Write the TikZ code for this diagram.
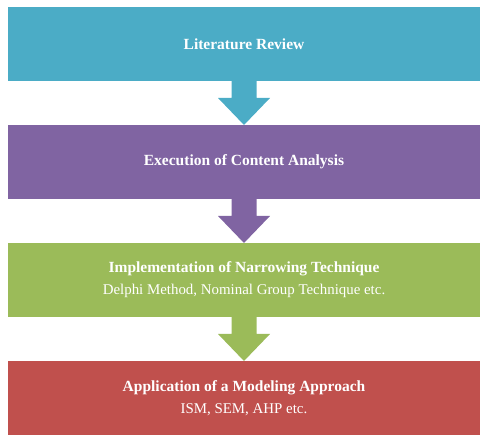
\documentclass[tikz,border=0pt]{standalone}
\usepackage{fontspec}
\setmainfont{Liberation Serif}
\usetikzlibrary{positioning,calc}
\definecolor{litblue}{HTML}{4BACC6}
\definecolor{conpurple}{HTML}{8064A2}
\definecolor{nargreen}{HTML}{9BBB59}
\definecolor{modred}{HTML}{C0504D}
\newcommand{\stepname}[1]{{\fontsize{15.5}{22}\selectfont\bfseries #1}}
% block arrow from the bottom of one stage to the top of the next
\newcommand{\flowarrow}[3]{%
  \fill[#1] ($(#2.south)+(-12.5,0)$) -- ($(#2.south)+(12.5,0)$)
    -- ($(#2.south)+(12.5,-17)$) -- ($(#2.south)+(26,-17)$)
    -- (#3.north)
    -- ($(#2.south)+(-26,-17)$) -- ($(#2.south)+(-12.5,-17)$) -- cycle;}

\begin{document}
\begin{tikzpicture}[x=1pt,y=1pt,
    stagebox/.style={minimum width=472pt,minimum height=74pt,inner sep=0pt,outer sep=0pt,
      text=white,align=center,font=\fontsize{14.9}{22}\selectfont}]
  \useasboundingbox (0,0) rectangle (480,435);
  % stages
  \node[stagebox,fill=litblue] (lit) at (244,391) {\stepname{Literature Review}};
  \node[stagebox,fill=conpurple,below=44pt of lit] (con) {\stepname{Execution of Content Analysis}};
  \node[stagebox,fill=nargreen,below=44pt of con] (nar)
    {\stepname{Implementation of Narrowing Technique}\\Delphi Method, Nominal Group Technique etc.};
  \node[stagebox,fill=modred,below=44pt of nar] (mod)
    {\stepname{Application of a Modeling Approach}\\ISM, SEM, AHP etc.};
  % arrows
  \flowarrow{litblue}{lit}{con}
  \flowarrow{conpurple}{con}{nar}
  \flowarrow{nargreen}{nar}{mod}
\end{tikzpicture}
\end{document}
